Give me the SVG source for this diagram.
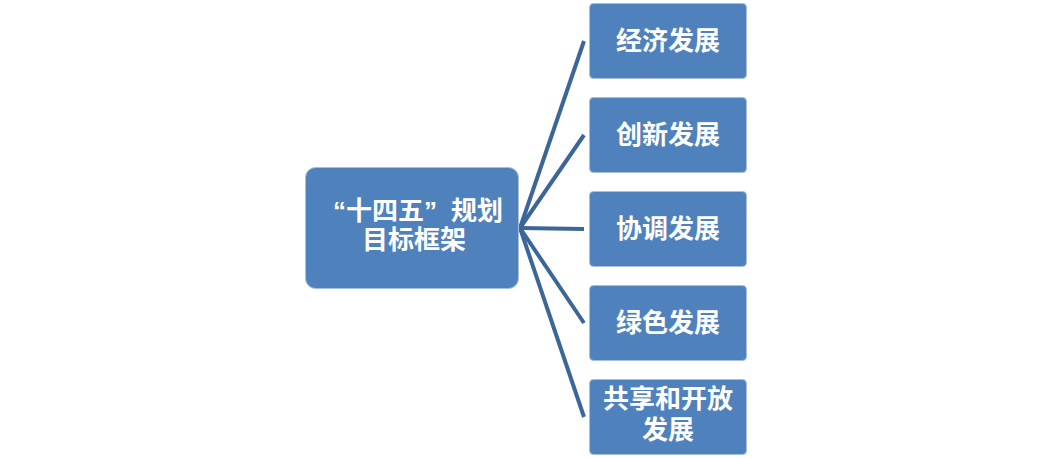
<svg xmlns="http://www.w3.org/2000/svg" width="1054" height="458" viewBox="0 0 1054 458">
<style>
.box{fill:#4f81bd;stroke:#a9c0dd;stroke-width:1}
.lbl{fill:#ffffff;font-family:"Liberation Sans","Noto Sans CJK SC",sans-serif;font-weight:700;font-size:26px;text-anchor:middle}
.cn{stroke:#3d6698;stroke-width:4;fill:none;stroke-linecap:butt}
</style>
<rect width="1054" height="458" fill="#ffffff"/>
<g id="connectors">
<line class="cn" x1="520" y1="228" x2="584" y2="41"/>
<line class="cn" x1="520" y1="228" x2="584" y2="135"/>
<line class="cn" x1="520" y1="228" x2="584" y2="229"/>
<line class="cn" x1="520" y1="228" x2="584" y2="323"/>
<line class="cn" x1="520" y1="228" x2="584" y2="417"/>
</g>
<g id="root">
<rect class="box" x="305.5" y="167.5" width="213" height="121" rx="10"/>
<text class="lbl" x="418" y="220">“十四五”<tspan dx="14">规划</tspan></text>
<text class="lbl" x="414" y="249">目标框架</text>
</g>
<g id="n1">
<rect class="box" x="589.5" y="3.5" width="157" height="75" rx="4"/>
<text class="lbl" x="668" y="50">经济发展</text>
</g>
<g id="n2">
<rect class="box" x="589.5" y="97.5" width="157" height="75" rx="4"/>
<text class="lbl" x="668" y="144">创新发展</text>
</g>
<g id="n3">
<rect class="box" x="589.5" y="191.5" width="157" height="75" rx="4"/>
<text class="lbl" x="668" y="238">协调发展</text>
</g>
<g id="n4">
<rect class="box" x="589.5" y="285.5" width="157" height="75" rx="4"/>
<text class="lbl" x="668" y="332">绿色发展</text>
</g>
<g id="n5">
<rect class="box" x="589.5" y="379.5" width="157" height="75" rx="4"/>
<text class="lbl" x="668" y="408">共享和开放</text>
<text class="lbl" x="668" y="439">发展</text>
</g>
</svg>
